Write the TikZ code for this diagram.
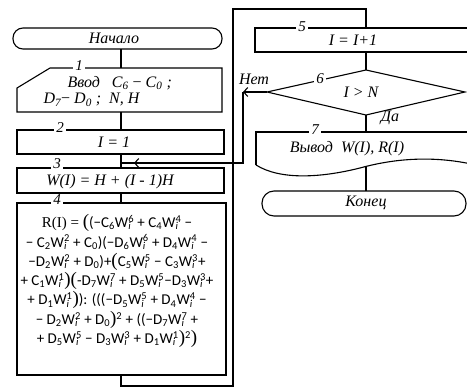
\documentclass[tikz,border=0pt]{standalone}
\usepackage{fontspec}
\setmainfont{Liberation Serif}
\newfontfamily\formfont{Carlito}
\usetikzlibrary{arrows.meta}
\newcommand{\Wi}[1]{W\rlap{\textsubscript{\itshape i}}\textsuperscript{#1}}
\newcommand{\Cc}[1]{C\textsubscript{#1}}
\newcommand{\Dd}[1]{D\textsubscript{#1}}
\newcommand{\bp}[1]{{\rmfamily\fontsize{19}{19}\selectfont #1}}
\newcommand{\formsetup}{\formfont\fontsize{15}{19.3}\selectfont\lineskiplimit-20pt\relax}
\begin{document}
\begin{tikzpicture}[x=1pt,y=-1pt,line width=1.1pt,
  txt/.style={font=\itshape\fontsize{16}{18}\selectfont, inner sep=0pt},
  num/.style={font=\itshape\fontsize{15}{15}\selectfont, fill=white, inner xsep=2pt, inner ysep=0pt},
  form/.style={font=\formsetup, align=center, inner sep=0pt},
  arr/.style={-{Straight Barb[length=4pt,width=9pt]}}]
\useasboundingbox (0,0) rectangle (467,388);
\clip (0,0) rectangle (467,388);
% ---------- left column
\draw[rounded corners=10pt] (13,28) rectangle (222,49);
\node[txt] (start) at (114,38) {Начало};
\draw (17,88) -- (50,68) -- (222,68) -- (222,112) -- (17,112) -- cycle;
\node[num] (n1) at (79,66) {1};
\node[txt, anchor=west] (in1) at (67,83) {Ввод\ \ \ C\textsubscript{6} {\upshape−} C\textsubscript{0} ;};
\node[txt, anchor=west] (in2) at (43,100) {D\textsubscript{7}{\upshape−}\ D\textsubscript{0} ;\ \ N, H};
\draw (17,130) rectangle (224,154);
\node[num] (n2) at (60,128) {2};
\node[txt] (t2) at (114,142) {I = 1};
\draw (17,168) rectangle (224,193);
\node[num] (n3) at (57,164) {3};
\node[txt] (t3) at (110,182) {W(I) = H + (I - 1)H};
\draw (17,203) rectangle (226,375);
\node[num] (n4) at (57,200) {4};
\node[form, anchor=north] (t4) at (117,214) {%
{\rmfamily R(I) = }\bp{(}(−\Cc6\Wi6 + \Cc4\Wi4 −\\
− \Cc2\Wi2 + \Cc0)(−\Dd6\Wi6 + \Dd4\Wi4 −\\
−\Dd2\Wi2 + \Dd0)+\bp{(}\Cc5\Wi5 − \Cc3\Wi3+\\
+ \Cc1\Wi1\bp{)}\bp{(}-\Dd7\Wi7 + \Dd5\Wi5−\Dd3\Wi3+\\
+ \Dd1\Wi1\bp{)}): (((−\Dd5\Wi5 + \Dd4\Wi4 −\\
− \Dd2\Wi2 + \Dd0\bp{)}\textsuperscript{2} + ((−\Dd7\Wi7 +\\
+ \Dd5\Wi5 − \Dd3\Wi3 + \Dd1\Wi1\bp{)}\textsuperscript{2}\bp{)}};
% connector points left
\coordinate (s-b) at (121,49);
\coordinate (b1-t) at (121,68);
\coordinate (b1-b) at (121,112);
\coordinate (b2-t) at (121,130);
\coordinate (b2-b) at (121,154);
\coordinate (j) at (121,163);
\coordinate (b3-t) at (121,168);
\coordinate (b3-b) at (121,193);
\coordinate (b4-t) at (121,203);
\coordinate (b4-b) at (121,375);
\coordinate (l1) at (121,386);
\coordinate (l2) at (233,386);
\coordinate (l3) at (233,9);
\coordinate (l4) at (366,9);
% ---------- right column
\draw (255,28) rectangle (490,52);
\node[num] (n5) at (302,27) {5};
\node[txt] (t5) at (353,40) {I = I+1};
\coordinate (d-t) at (366,70);
\coordinate (d-l) at (267,92);
\coordinate (d-b) at (366,115);
\coordinate (d-r) at (465,92);
\draw (d-t) -- (d-r) -- (d-b) -- (d-l) -- cycle;
\node[num] (n6) at (320,79) {6};
\node[txt] (t6) at (361,92) {I > N};
\node[txt] (no) at (254,79) {Нет};
\node[txt] (yes) at (390,118) {Да};
\draw (256,165) -- (256,132) -- (490,132);
\draw (256,165) .. controls (280,180) and (320,178) .. (360,168) .. controls (400,157) and (440,156) .. (480,166);
\node[num] (n7) at (315,130) {7};
\node[txt] (t7) at (347,149) {Вывод\ \ W(I), R(I)};
\draw[rounded corners=12pt] (262,191) rectangle (466,216);
\node[txt] (end) at (366,203) {Конец};
\coordinate (b5-t) at (366,28);
\coordinate (b5-b) at (366,52);
\coordinate (b7-t) at (366,132);
\coordinate (b7-b) at (366,167);
\coordinate (e-t) at (366,191);
\coordinate (nc) at (243,92);
\coordinate (nd) at (243,163);
\coordinate (ja) at (134,163);
% ---------- connectors
\draw (s-b) -- (b1-t);
\draw (b1-b) -- (b2-t);
\draw (b2-b) -- (b3-t);
\draw (b3-b) -- (b4-t);
\draw (b4-b) -- (l1) -- (l2) -- (l3) -- (l4) -- (b5-t);
\draw (b5-b) -- (d-t);
\draw (d-b) -- (b7-t);
\draw (b7-b) -- (e-t);
\draw[arr] (d-l) -- (nc);
\draw (nc) -- (nd) -- (j);
\draw[arr] (nd) -- (ja);
\end{tikzpicture}
\end{document}
